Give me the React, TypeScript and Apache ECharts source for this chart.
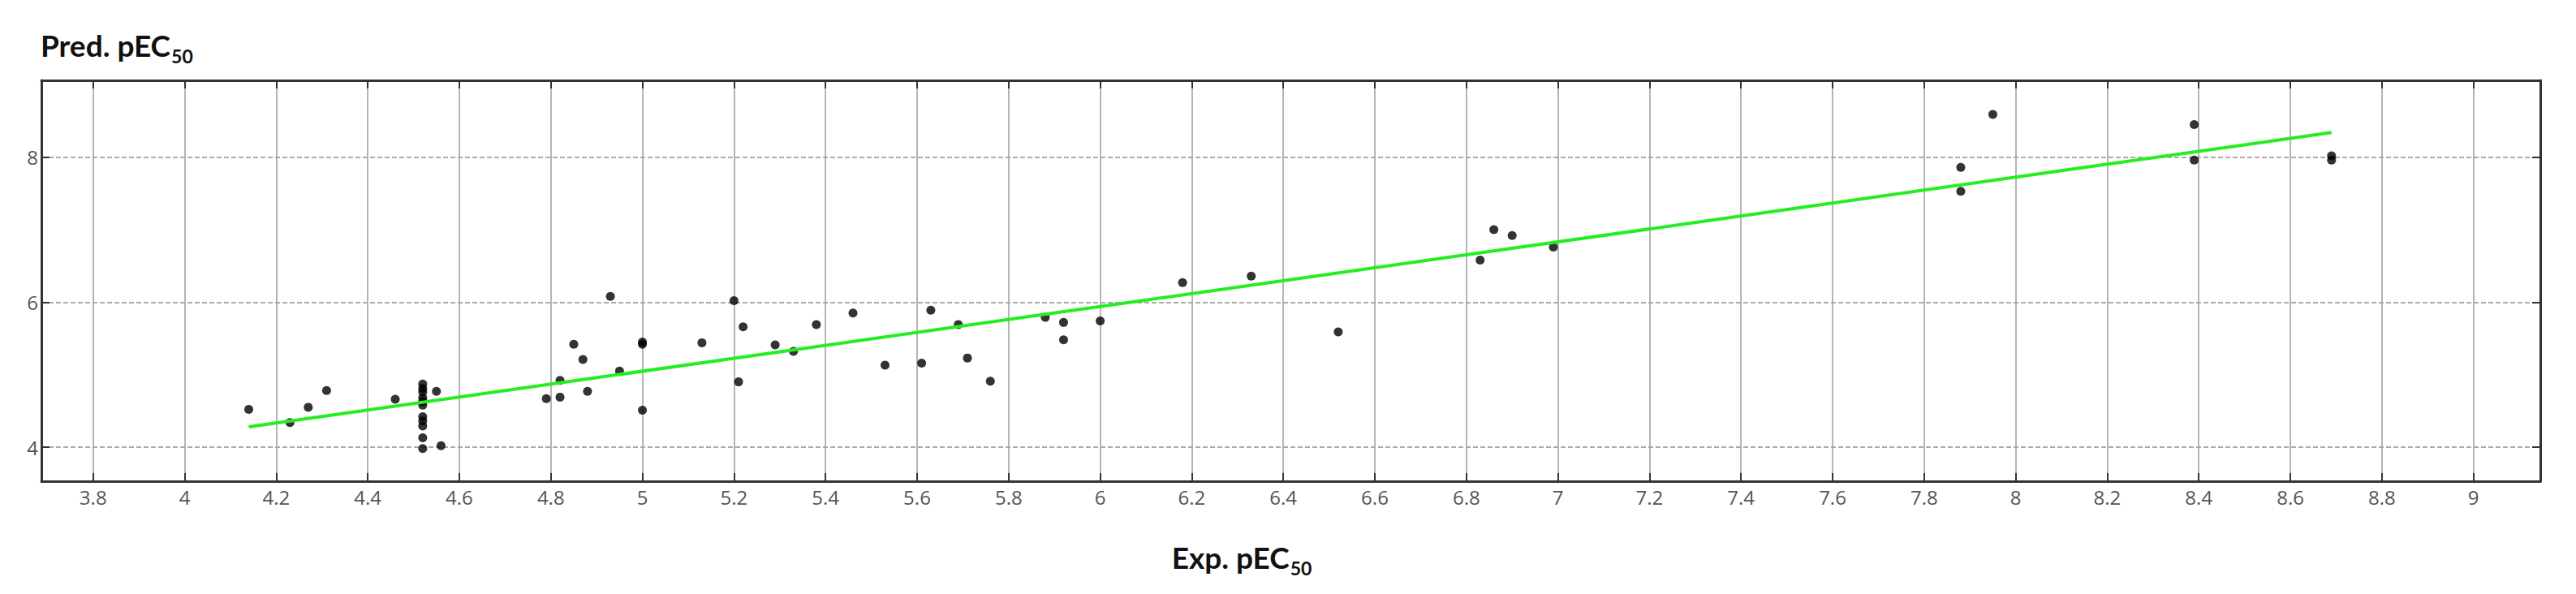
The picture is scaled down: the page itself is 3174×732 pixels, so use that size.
import React, { useEffect, useRef } from "react";
import * as echarts from "echarts";

// Experimental pEC50 (x) and predicted pEC50 (y) for each compound
const expValues = [
  4.14, 4.23, 4.27, 4.31, 4.46,
  4.52, 4.52, 4.52, 4.52, 4.52, 4.52, 4.52, 4.52, 4.52, 4.52, 4.52,
  4.55, 4.56, 4.79, 4.82, 4.82, 4.85, 4.87, 4.88, 4.93, 4.95,
  5.0, 5.0, 5.0, 5.13, 5.2, 5.22, 5.21, 5.29, 5.33, 5.38, 5.46,
  5.53, 5.61, 5.63, 5.69, 5.71, 5.76, 5.88, 5.92, 5.92, 6.0,
  6.18, 6.33, 6.52, 6.83, 6.86, 6.9, 6.99,
  7.88, 7.88, 7.95, 8.39, 8.39, 8.69, 8.69,
];
const predValues = [
  4.52, 4.34, 4.55, 4.78, 4.66,
  4.87, 4.81, 4.76, 4.68, 4.63, 4.58, 4.42, 4.36, 4.29, 4.13, 3.98,
  4.77, 4.02, 4.67, 4.92, 4.69, 5.42, 5.21, 4.77, 6.08, 5.05,
  5.45, 5.42, 4.51, 5.44, 6.02, 5.66, 4.9, 5.41, 5.32, 5.69, 5.85,
  5.13, 5.16, 5.89, 5.69, 5.23, 4.91, 5.79, 5.72, 5.48, 5.74,
  6.27, 6.36, 5.59, 6.58, 7.0, 6.92, 6.76,
  7.86, 7.53, 8.59, 8.45, 7.96, 8.02, 7.96,
];

// Fitted regression line end points
const fitX = [4.14, 8.69];
const fitY = [4.28, 8.34];

// Tick values
const xTicks = [
  3.8, 4, 4.2, 4.4, 4.6, 4.8, 5, 5.2, 5.4, 5.6, 5.8, 6, 6.2, 6.4, 6.6,
  6.8, 7, 7.2, 7.4, 7.6, 7.8, 8, 8.2, 8.4, 8.6, 8.8, 9,
];
const yTicks = [4, 6, 8];

const yTitle = "Pred. pEC";
const xTitle = "Exp. pEC";
const subscript = "50";

export default function App() {
  const ref = useRef<HTMLDivElement>(null);

  useEffect(() => {
    if (!ref.current) return;
    const chart = echarts.init(ref.current, null, { renderer: "svg" });

    const X_MIN = 3.687;
    const X_MAX = 9.146;
    const Y_MIN = 3.53;
    const Y_MAX = 9.06;
    const frame = "#333333";
    const labelFont = "Open Sans";
    const titleFont = "Lato";
    const mainSize = 37;
    const subSize = 23;
    const subDrop = 14;
    const fmt = (v: number) => String(+Number(v).toFixed(1));

    const canvas = document.createElement("canvas");
    const ctx = canvas.getContext("2d");
    const measure = (t: string, size: number) => {
      if (!ctx) return t.length * size * 0.5;
      ctx.font = `bold ${size}px ${titleFont}`;
      return ctx.measureText(t).width;
    };

    const titleTexts = (main: string, left: number, cy: number) => {
      const w = measure(main, mainSize);
      return [
        {
          type: "text",
          x: left,
          y: cy,
          style: {
            text: main,
            fontSize: mainSize,
            fontWeight: "bold",
            fontFamily: titleFont,
            fill: "#111",
            align: "left",
            verticalAlign: "middle",
          },
        },
        {
          type: "text",
          x: left + w + 1,
          y: cy + subDrop,
          style: {
            text: subscript,
            fontSize: subSize,
            fontWeight: "bold",
            fontFamily: titleFont,
            fill: "#111",
            align: "left",
            verticalAlign: "middle",
          },
        },
      ];
    };

    const xTitleWidth = measure(xTitle, mainSize) + 1 + measure(subscript, subSize);
    const xTitleLeft = 1530 - xTitleWidth / 2;

    const tick = (vals: number[]) => ({
      show: true,
      inside: true,
      length: 10,
      customValues: vals,
      lineStyle: { color: frame, width: 2 },
    });
    const line = { show: true, onZero: false, lineStyle: { color: frame, width: 3 } };

    chart.setOption({
      animation: false,
      backgroundColor: "#ffffff",
      grid: {
        left: 51,
        top: 99,
        right: 44,
        bottom: 139,
        containLabel: false,
        outerBoundsMode: "none",
      },
      xAxis: [
        {
          type: "value",
          position: "bottom",
          min: X_MIN,
          max: X_MAX,
          axisLine: line,
          axisTick: tick(xTicks),
          axisLabel: {
            customValues: xTicks,
            formatter: fmt,
            fontSize: 24,
            color: "#555",
            fontFamily: labelFont,
            margin: 7,
          },
          splitLine: { show: true, lineStyle: { color: "#a3a3a3", width: 1.6 } },
        },
        {
          type: "value",
          position: "top",
          min: X_MIN,
          max: X_MAX,
          axisLine: line,
          axisTick: tick(xTicks),
          axisLabel: { show: false },
          splitLine: { show: false },
        },
      ],
      yAxis: [
        {
          type: "value",
          position: "left",
          min: Y_MIN,
          max: Y_MAX,
          axisLine: line,
          axisTick: tick(yTicks),
          axisLabel: {
            customValues: yTicks,
            formatter: fmt,
            fontSize: 24,
            color: "#555",
            fontFamily: labelFont,
            margin: 4,
          },
          splitLine: {
            show: true,
            lineStyle: { color: "#ababab", width: 2, type: [6, 3] },
          },
        },
        {
          type: "value",
          position: "right",
          min: Y_MIN,
          max: Y_MAX,
          axisLine: line,
          axisTick: tick(yTicks),
          axisLabel: { show: false },
          splitLine: { show: false },
        },
      ],
      series: [
        {
          type: "scatter",
          xAxisIndex: 0,
          yAxisIndex: 0,
          data: expValues.map((x, i) => [x, predValues[i]]),
          symbol: "circle",
          symbolSize: 11,
          itemStyle: { color: "#000" },
          z: 2,
        },
        {
          type: "line",
          xAxisIndex: 0,
          yAxisIndex: 0,
          data: fitX.map((x, i) => [x, fitY[i]]),
          symbol: "none",
          lineStyle: { color: "#22ee22", width: 4 },
          z: 3,
        },
      ],
      graphic: [
        ...titleTexts(yTitle, 50, 55),
        ...titleTexts(xTitle, xTitleLeft, 686),
      ],
    });

    return () => chart.dispose();
  }, []);

  return (
    <div
      ref={ref}
      style={{
        position: "fixed",
        left: 0,
        top: 0,
        width: 3174,
        height: 732,
        background: "#fff",
      }}
    />
  );
}
